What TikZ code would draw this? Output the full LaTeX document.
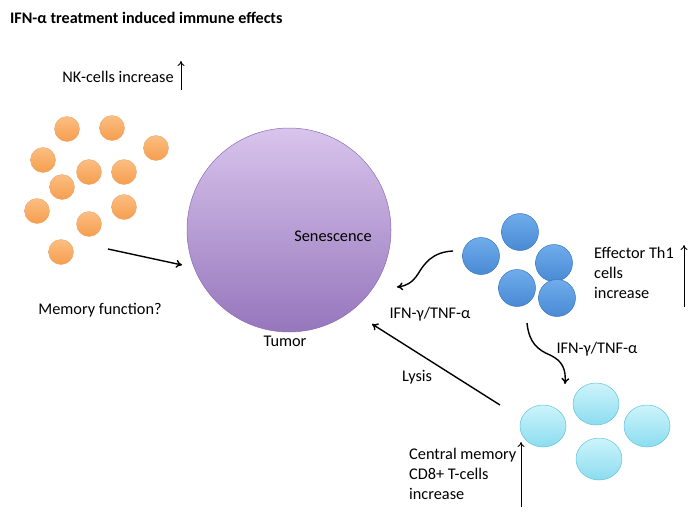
\documentclass[tikz,border=0pt]{standalone}
\usepackage{fontspec}
\setmainfont{Carlito}
\usetikzlibrary{arrows.meta,shapes.geometric}
\definecolor{oTop}{RGB}{251,190,130}
\definecolor{oBot}{RGB}{246,158,78}
\definecolor{oEdge}{RGB}{235,160,100}
\definecolor{bTop}{RGB}{112,172,235}
\definecolor{bBot}{RGB}{72,138,212}
\definecolor{bEdge}{RGB}{60,120,190}
\definecolor{cTop}{RGB}{205,244,251}
\definecolor{cBot}{RGB}{140,220,240}
\definecolor{cEdge}{RGB}{100,195,220}
\definecolor{tTop}{RGB}{216,196,236}
\definecolor{tBot}{RGB}{150,118,188}
\definecolor{tEdge}{RGB}{140,110,180}
\tikzset{
  cellO/.style={circle,minimum size=25pt,inner sep=0pt,draw=oEdge,line width=0.3pt,top color=oTop,bottom color=oBot},
  cellB/.style={circle,minimum size=37pt,inner sep=0pt,draw=bEdge,line width=0.5pt,top color=bTop,bottom color=bBot},
  cellC/.style={ellipse,minimum width=46pt,minimum height=42pt,inner sep=0pt,draw=cEdge,line width=0.5pt,top color=cTop,bottom color=cBot},
  lbl/.style={font=\fontsize{16.3}{20}\selectfont,inner sep=0pt,align=left},
  arr/.style={line width=1.4pt,-{To[length=6pt,width=8pt]}},
  incarr/.style={line width=0.9pt,-{To[length=5pt,width=7pt]}}
}
\begin{document}
\begin{tikzpicture}[x=1pt,y=-1pt]
\useasboundingbox (0,0) rectangle (700,516);
% title
\node[lbl,anchor=west,font=\fontsize{16.1}{20}\selectfont\bfseries] (title) at (10,18) {IFN-α treatment induced immune effects};
% tumor
\node[circle,minimum size=204pt,inner sep=0pt,draw=tEdge,line width=0.5pt,top color=tTop,bottom color=tBot] (tumor) at (289,230) {};
\node[lbl] (sen) at (333,236) {Senescence};
\node[lbl] (tum) at (285,341) {Tumor};
% NK cells
\node[lbl] (nk) at (118,77) {NK-cells increase};
\coordinate (nka) at (181,90); \coordinate (nkb) at (181,61);
\draw[incarr] (nka) -- (nkb);
\foreach \i/\x/\y in {1/67/129,2/112/128,3/156/148,4/43/160,5/89/172,6/124/172,7/62/187,8/37/211,9/124/207,10/89/224,11/61/252}
  \node[cellO] (o\i) at (\x,\y) {};
\coordinate (ma) at (108,249); \coordinate (mb) at (182,265);
\draw[arr] (ma) -- (mb);
\node[lbl] (mem) at (100,310) {Memory function?};
% Effector Th1
\node[cellB] (b1) at (520,232) {};
\node[cellB] (b2) at (481,256) {};
\node[cellB] (b3) at (554,263) {};
\node[cellB] (b4) at (517,288) {};
\node[cellB] (b5) at (557,298) {};
\coordinate (w1a) at (453,251); \coordinate (w1b) at (397,287);
\draw[arr] (w1a) .. controls (432,252) and (424,264) .. (418,274) .. controls (412,283) and (406,286) .. (w1b);
\node[lbl] (ifn1) at (430,314) {IFN-γ/TNF-α};
\node[lbl,anchor=west] (eff) at (594,273) {Effector Th1\\cells\\increase};
\coordinate (ea) at (684,307); \coordinate (eb) at (684,245);
\draw[incarr] (ea) -- (eb);
% CD8 central memory
\node[cellC] (c1) at (543,426) {};
\node[cellC] (c2) at (596,404) {};
\node[cellC] (c3) at (647,426) {};
\node[cellC] (c4) at (599,459) {};
\coordinate (w2a) at (527,323); \coordinate (w2b) at (565,384);
\draw[arr] (w2a) .. controls (529,343) and (538,350) .. (550,355) .. controls (563,361) and (566,370) .. (w2b);
\node[lbl] (ifn2) at (597,349) {IFN-γ/TNF-α};
\coordinate (la) at (500,405); \coordinate (lb) at (372,324);
\draw[arr] (la) -- (lb);
\node[lbl] (lys) at (417,377) {Lysis};
\node[lbl,anchor=west] (cm) at (409,474) {Central memory\\CD8+ T-cells\\increase};
\coordinate (ca) at (521,507); \coordinate (cb) at (521,442);
\draw[incarr] (ca) -- (cb);
\end{tikzpicture}
\end{document}
